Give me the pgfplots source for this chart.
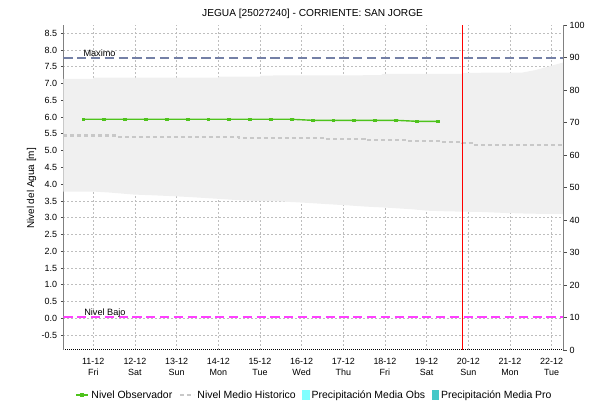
\documentclass[border=0pt]{standalone}
\usepackage{fontspec}
\setmainfont{Liberation Sans}
\usepackage{pgfplots}
\pgfplotsset{compat=1.18}
\usepgfplotslibrary{fillbetween}
\definecolor{obsgreen}{HTML}{4EC31C}
\definecolor{maxblue}{HTML}{7480A6}
\definecolor{bajomag}{HTML}{FF40FF}
\definecolor{bandgray}{HTML}{F0F0F0}
\definecolor{histgray}{HTML}{C8C8C8}
\definecolor{gridgray}{HTML}{BEBEBE}
\definecolor{precobs}{HTML}{80FFFF}
\definecolor{precpro}{HTML}{44C8C8}
\begin{document}
\begin{tikzpicture}
\node[font=\fontsize{10.2}{12}\selectfont, anchor=center] at (312.6bp,388bp) {JEGUA [25027240] - CORRIENTE: SAN JORGE};
\node[font=\fontsize{10}{12}\selectfont, rotate=90] at (31.5bp,213.5bp) {Nivel del Agua [m]};
\begin{axis}[
  set layers,
  at={(63.3bp,52bp)}, anchor=south west,
  scale only axis, width=500bp, height=325bp,
  xmin=-0.72, xmax=11.28, ymin=-0.945, ymax=8.747,
  axis x line*=bottom, axis y line*=left,
  x axis line style={black, dash pattern=on 1bp off 1bp, line width=1bp},
  y axis line style={gray, line width=1.3bp},
  xtick={0,1,2,3,4,5,6,7,8,9,10,11},
  xticklabels={{11-12\\Fri},{12-12\\Sat},{13-12\\Sun},{14-12\\Mon},{15-12\\Tue},{16-12\\Wed},{17-12\\Thu},{18-12\\Fri},{19-12\\Sat},{20-12\\Sun},{21-12\\Mon},{22-12\\Tue}},
  ytick={-0.5,0,0.5,1,1.5,2,2.5,3,3.5,4,4.5,5,5.5,6,6.5,7,7.5,8,8.5},
  yticklabels={-0.5,0.0,0.5,1.0,1.5,2.0,2.5,3.0,3.5,4.0,4.5,5.0,5.5,6.0,6.5,7.0,7.5,8.0,8.5},
  tick align=outside, major tick length=2.5bp,
  xtick style={draw=none},
  ytick style={black!70, line width=0.8bp},
  ticklabel style={font=\fontsize{9}{10.7}\selectfont},
  xticklabel style={align=center, inner sep=0pt, yshift=-6bp},
  yticklabel style={inner sep=0pt, xshift=-3.5bp},
  grid=major,
  major grid style={gridgray, dash pattern=on 2bp off 2bp, line width=0.8bp},
  legend columns=4,
  legend style={draw=none, fill=none, at={(0.503,-0.1385)}, anchor=center,
    font=\fontsize{10.5}{12}\selectfont,
    /tikz/every even column/.append style={column sep=4bp},
    nodes={inner xsep=2.5bp, inner ysep=1bp}},
  legend cell align=left,
]
\addplot[name path=bandtop, draw=none, forget plot] coordinates {
(-0.72,7.14) (0,7.14) (0.01,7.18) (3,7.18) (3.01,7.21) (4,7.21) (4.01,7.24) (6.9,7.25) (6.95,7.29) (8.85,7.29) (8.87,7.32) (10.3,7.33) (10.6,7.40) (10.9,7.50) (11.28,7.63)};
\addplot[name path=bandbot, draw=none, forget plot] coordinates {
(-0.72,3.78) (0,3.78) (0.4,3.75) (0.98,3.69) (1.4,3.67) (1.96,3.64) (2.39,3.61) (3.04,3.56) (3.64,3.51) (4.4,3.49) (5.03,3.45) (5.68,3.40) (6.08,3.37) (6.56,3.33) (7.04,3.30) (7.67,3.25) (8.0,3.21) (8.48,3.19) (9.35,3.17) (9.92,3.14) (10.48,3.12) (11.28,3.11)};
\addplot[bandgray, forget plot, on layer=axis background] fill between[of=bandtop and bandbot];
\addplot[maxblue, line width=2.5bp, dash pattern=on 9.3bp off 4.5bp, forget plot] coordinates {(-0.72,7.77) (11.28,7.77)};
\addplot[bajomag, line width=2.5bp, dash pattern=on 9.3bp off 4.5bp, forget plot] coordinates {(-0.72,0.04) (11.28,0.04)};
\addplot[obsgreen, line width=1.4bp, mark=square*, mark size=1.4bp, mark options={solid, line width=0.6bp},
  legend image code/.code={\draw[obsgreen, line width=1.4bp] (0bp,0bp) -- (12bp,0bp); \fill[obsgreen] (4.5bp,-1.5bp) rectangle (7.5bp,1.5bp);}]
coordinates {
(-0.24,5.935) (0.26,5.935) (0.76,5.935) (1.26,5.935) (1.76,5.935) (2.26,5.935) (2.76,5.935) (3.26,5.935) (3.76,5.935) (4.26,5.935) (4.76,5.935)
(5.26,5.905) (5.76,5.905) (6.26,5.905) (6.76,5.905) (7.26,5.905) (7.76,5.875) (8.26,5.875)};
\addlegendentry{Nivel Observador}
\addplot[histgray, line width=2.2bp, dash pattern=on 4bp off 3bp, const plot,
  legend image code/.code={\draw[histgray, line width=2.2bp, dash pattern=on 4bp off 3bp] (0bp,0bp) -- (14bp,0bp);}]
coordinates {
(-0.72,5.45) (0.57,5.41) (3.5,5.38) (5.56,5.356) (6.52,5.326) (7.55,5.297) (8.36,5.267) (8.84,5.22) (9.08,5.17) (11.28,5.17)};
\addlegendentry{Nivel Medio Historico}
\addlegendimage{legend image code/.code={\fill[precobs] (0bp,-4.6bp) rectangle (6.6bp,4.6bp);}}
\addlegendentry{Precipitación Media Obs}
\addlegendimage{legend image code/.code={\fill[precpro] (0bp,-4.6bp) rectangle (6.6bp,4.6bp);}}
\addlegendentry{Precipitación Media Pro}
\addplot[red, line width=1.5bp, forget plot] coordinates {(8.86,-0.945) (8.86,8.747)};
\node[font=\fontsize{9.2}{11}\selectfont, anchor=base west, inner sep=0pt] at (axis cs:-0.24,7.82) {Maximo};
\node[font=\fontsize{9.2}{11}\selectfont, anchor=base west, inner sep=0pt] at (axis cs:-0.22,0.07) {Nivel Bajo};
\end{axis}
\begin{axis}[
  at={(63.3bp,52bp)}, anchor=south west,
  scale only axis, width=500bp, height=325bp,
  xmin=-0.72, xmax=11.28, ymin=0, ymax=100,
  axis x line=none, axis y line*=right,
  y axis line style={gray, line width=1.3bp},
  ytick={0,10,20,30,40,50,60,70,80,90,100},
  yticklabels={0,10,20,30,40,50,60,70,80,90,100},
  tick align=outside, major tick length=3.5bp,
  ytick style={black!70, line width=0.8bp},
  ticklabel style={font=\fontsize{9}{10.7}\selectfont},
  yticklabel style={inner sep=0pt, xshift=2.7bp},
]
\end{axis}
\pgfresetboundingbox
\path[use as bounding box] (0,0) rectangle (590bp,402bp);
\end{tikzpicture}
\end{document}
